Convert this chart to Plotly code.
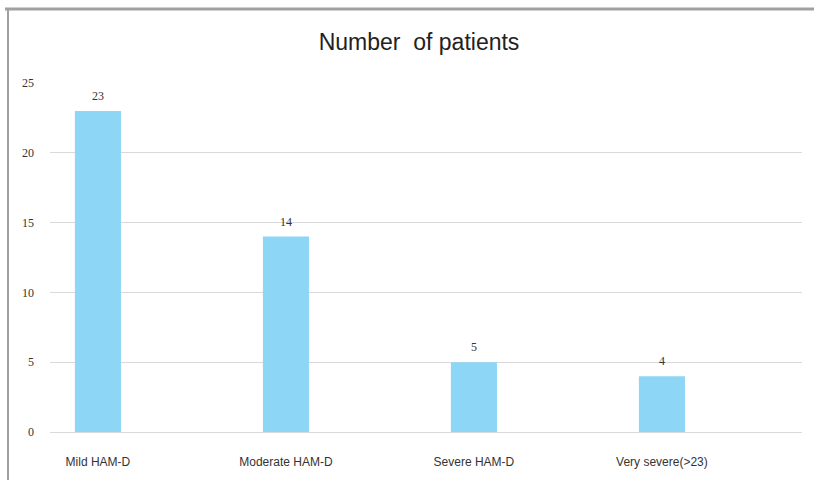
import plotly.graph_objects as go

# Patient counts by HAM-D severity band
categories = ["Mild HAM-D", "Moderate HAM-D", "Severe HAM-D", "Very severe(>23)"]
patients = [23, 14, 5, 4]
y_ticks = [0, 5, 10, 15, 20, 25]

W, H = 814, 480
L, R, T, B = 50, 12, 83, 48
pw, ph = W - L - R, H - T - B


def px_x(px):
    return (px - L) / pw


def px_y(py):
    return (H - B - py) / ph


xs = list(range(len(categories)))

fig = go.Figure(
    go.Bar(
        x=xs,
        y=patients,
        width=0.245,
        marker=dict(color="#8ED6F6", line=dict(width=0)),
        hoverinfo="x+y",
    )
)

# value labels sitting a little above each bar
for xi, v in zip(xs, patients):
    fig.add_annotation(
        x=xi, y=v, text=str(v), showarrow=False,
        yanchor="bottom", yshift=6,
        font=dict(family="Liberation Serif", size=12, color="#333333"),
    )

fig.update_layout(
    width=W,
    height=H,
    margin=dict(l=L, r=R, t=T, b=B),
    paper_bgcolor="white",
    plot_bgcolor="white",
    showlegend=False,
    title=dict(
        text="Number  of patients",
        x=419 / W,
        xanchor="center",
        y=1 - 42 / H,
        yanchor="middle",
        font=dict(family="Liberation Sans", size=23, color="#222222"),
    ),
    xaxis=dict(
        tickmode="array",
        tickvals=xs,
        ticktext=categories,
        range=[-0.255, 3.745],
        showgrid=False,
        showline=False,
        zeroline=False,
        ticks="",
        ticklabelstandoff=21,
        tickfont=dict(family="Liberation Sans", size=12, color="#333333"),
    ),
    yaxis=dict(
        range=[0, 25],
        tickmode="array",
        tickvals=y_ticks,
        showgrid=True,
        gridcolor="#D9D9D9",
        gridwidth=1,
        zeroline=True,
        zerolinecolor="#D9D9D9",
        zerolinewidth=1,
        showline=False,
        ticks="",
        ticklabelstandoff=15,
        tickfont=dict(family="Liberation Serif", size=12, color="#333333"),
    ),
    shapes=[
        # outer frame: top and left edges
        dict(type="line", xref="paper", yref="paper",
             x0=px_x(5), x1=px_x(W + 5), y0=px_y(9), y1=px_y(9),
             line=dict(color="#A0A0A0", width=3)),
        dict(type="line", xref="paper", yref="paper",
             x0=px_x(8), x1=px_x(8), y0=px_y(9), y1=px_y(H + 5),
             line=dict(color="#A0A0A0", width=2)),
    ],
)

fig.write_html("out.html")
